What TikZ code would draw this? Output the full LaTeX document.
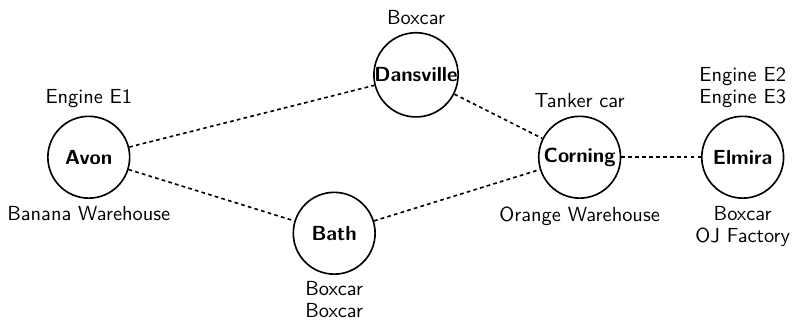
\documentclass[tikz,border=0pt]{standalone}
\begin{document}
\begin{tikzpicture}[thick, every node/.style={font=\sffamily}, label distance=2.3pt,
  every label/.style={align=center, inner sep=1pt, font=\sffamily\fontsize{10pt}{10.8pt}\selectfont},
  town/.style={circle, draw, minimum size=1.41cm, inner sep=0pt, font=\sffamily\bfseries},
  rail/.style={dash pattern=on 1.8pt off 1.6pt}]
\useasboundingbox (0,0) rectangle (13.65,5.55);
\node[town, label={above:Engine E1}, label={below:Banana Warehouse}] (avon) at (1.53,2.84) {Avon};
\node[town, label={above:Boxcar}] (dansville) at (7.17,4.26) {Dansville};
\node[town, label={[label distance=1.5pt]below:Boxcar\\Boxcar}] (bath) at (5.76,1.53) {Bath};
\node[town, label={above:Tanker car}, label={below:Orange Warehouse}] (corning) at (9.99,2.84) {Corning};
\node[town, label={above:Engine E2\\Engine E3}, label={below:Boxcar\\OJ Factory}] (elmira) at (12.80,2.84) {Elmira};
\draw[rail] (avon) -- (dansville);
\draw[rail] (avon) -- (bath);
\draw[rail] (dansville) -- (corning);
\draw[rail] (bath) -- (corning);
\draw[rail] (corning) -- (elmira);
\end{tikzpicture}
\end{document}
